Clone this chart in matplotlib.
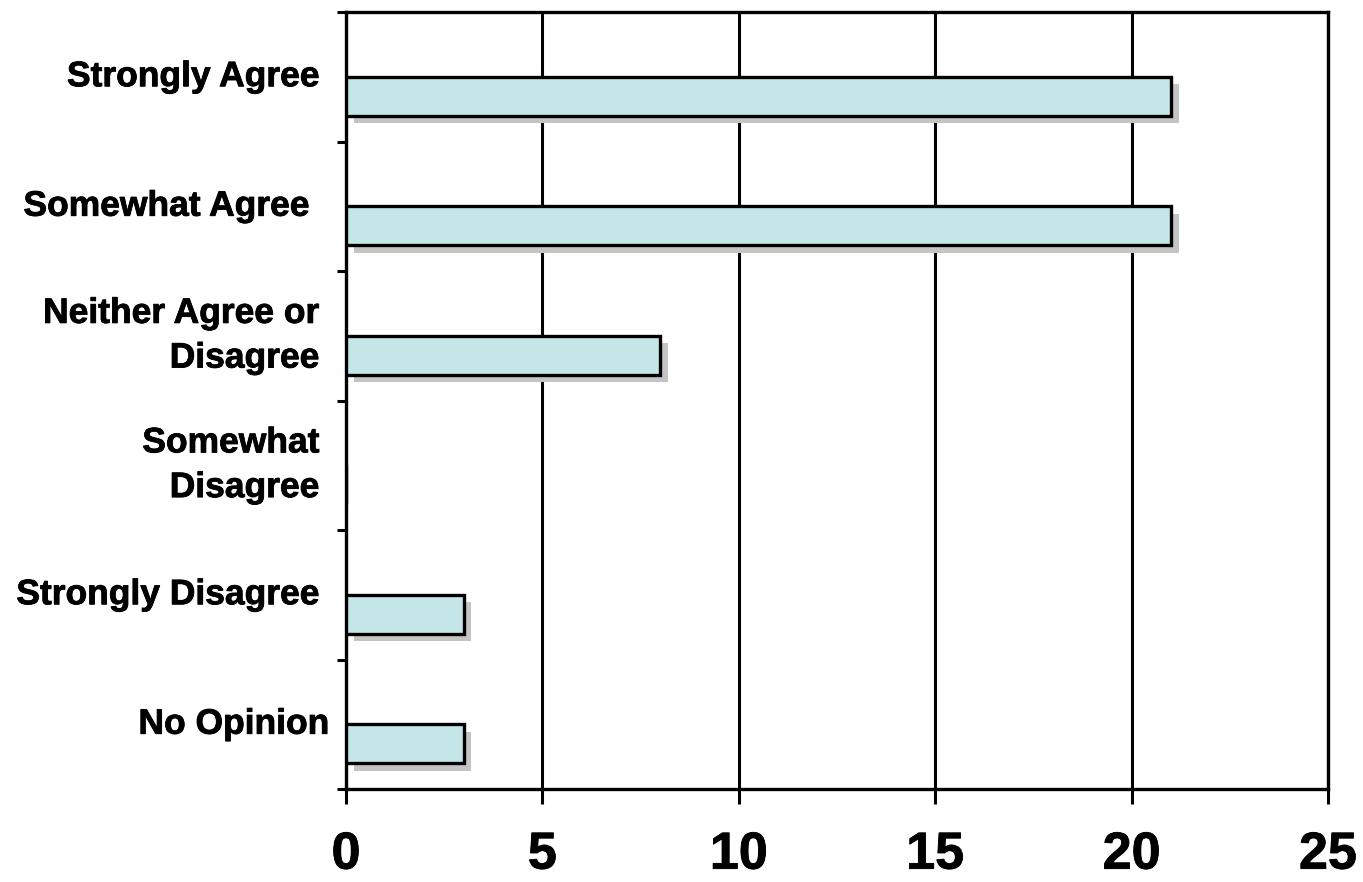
import matplotlib
matplotlib.use("Agg")
import matplotlib.pyplot as plt
import matplotlib.patheffects as pe
import numpy as np

# Survey responses
categories = [
    "Strongly Agree ",
    "Somewhat Agree  ",
    "Neither Agree or \nDisagree ",
    "Somewhat \nDisagree ",
    "Strongly Disagree ",
    "No Opinion",
]
counts = [21, 21, 8, 0, 3, 3]
x_ticks = [0, 5, 10, 15, 20, 25]

plt.rcParams["font.family"] = ["Liberation Sans", "DejaVu Sans"]

fig = plt.figure(figsize=(13.63, 8.82), dpi=100)
ax = fig.add_axes([346 / 1363, 1 - 789 / 882, (1328 - 346) / 1363, (789 - 12) / 882])

pos = np.arange(len(categories))
bars = ax.barh(pos, counts, height=0.3, align="edge",
               color="#c5e6e8", edgecolor="black", linewidth=2.4, zorder=3)
for b in bars:
    b.set_path_effects([
        pe.SimplePatchShadow(offset=(5.5, -5.5), shadow_rgbFace="#c4c4c4", alpha=1.0),
        pe.Normal(),
    ])

ax.set_xlim(0, 25)
ax.set_ylim(len(categories) - 0.5, -0.5)

heavy = [pe.withStroke(linewidth=0.6, foreground="black")]

ax.set_xticks(x_ticks)
ax.set_xticklabels([str(t) for t in x_ticks], fontsize=37.5, fontweight="bold")
ax.tick_params(axis="x", direction="out", length=11, width=2.2, pad=19)

# category labels at band centres, tick marks at band boundaries
ax.set_yticks(np.arange(len(categories) + 1) - 0.5)
ax.set_yticklabels([])
ax.tick_params(axis="y", which="major", direction="out", length=6.5, width=2.2)
ax.set_yticks(pos, minor=True)
ax.set_yticklabels(categories, minor=True, fontsize=25.5, fontweight="bold",
                   linespacing=1.45, ha="right", va="center")
ax.tick_params(axis="y", which="minor", length=0, pad=12)

for lbl in ax.get_xticklabels() + ax.get_yticklabels(minor=True):
    lbl.set_path_effects(heavy)

ax.grid(axis="x", color="black", linewidth=2.2)
ax.set_axisbelow(True)
for s in ax.spines.values():
    s.set_linewidth(2.4)
    s.set_color("black")

fig.savefig("out.png", dpi=100, facecolor="white")
